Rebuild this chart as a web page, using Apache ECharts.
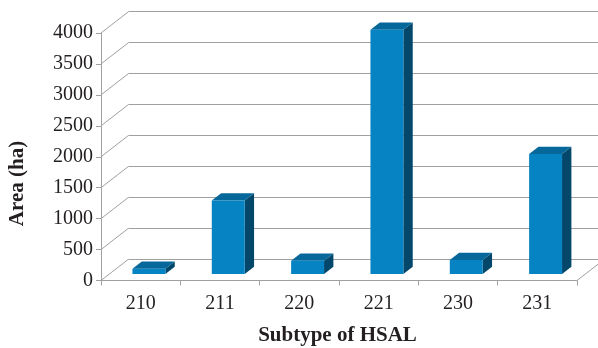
<!DOCTYPE html>
<html>
<head>
<meta charset="utf-8">
<script src="https://cdn.jsdelivr.net/npm/echarts@6/dist/echarts.min.js"></script>
<style>
  html, body { margin: 0; padding: 0; background: #ffffff; }
  #chart { width: 598px; height: 348px; }
</style>
</head>
<body>
<div id="chart"></div>
<script>
// Area per HSAL subtype
const categories = ['210', '211', '220', '221', '230', '231'];
const areaValues = [85, 1190, 215, 3950, 230, 1940];
const yTicks = [0, 500, 1000, 1500, 2000, 2500, 3000, 3500, 4000];

// Pseudo-3D geometry (pixels / fractions)
const DEPTH_X = 27.5;      // back wall shift to the right
const DEPTH_Y = 21.3;      // back wall shift upwards
const BAR_FRONT = 0.30;    // bar front face position within the depth
const BAR_DEPTH = 0.34;    // bar thickness as part of the depth
const BAR_WIDTH = 0.415;   // bar width relative to a category band

const GRID_COLOR = '#a0a0a0';
const AXIS_COLOR = '#a0a0a0';
const TEXT_COLOR = '#231f20';
const FACE_FRONT = '#0583c2';
const FACE_TOP = '#06679a';
const FACE_SIDE = '#03476b';
const SERIF = '"Liberation Serif", "Times New Roman", serif';

const chart = echarts.init(document.getElementById('chart'), null, { renderer: 'canvas' });

function px(v) { return Math.round(v - 0.5) + 0.5; }

// Back wall gridlines, side wall diagonals and floor edge
function renderWalls(params, api) {
  const cs = params.coordSys;
  const v = api.value(1);
  const y = api.coord([0, v])[1];
  const x0 = cs.x;
  const x1 = cs.x + cs.width;
  const style = { stroke: GRID_COLOR, lineWidth: 1 };
  const children = [
    { type: 'line', shape: { x1: x0, y1: y, x2: x0 + DEPTH_X, y2: y - DEPTH_Y }, style: style },
    { type: 'line', shape: { x1: x0 + DEPTH_X, y1: px(y - DEPTH_Y), x2: x1 + DEPTH_X, y2: px(y - DEPTH_Y) }, style: style }
  ];
  if (v === 0) {
    children.push({ type: 'line', shape: { x1: x1, y1: y, x2: x1 + DEPTH_X, y2: y - DEPTH_Y }, style: style });
  }
  return { type: 'group', children: children };
}

// One box-shaped bar per category
function renderBar(params, api) {
  const idx = api.value(0);
  const base = api.coord([idx, 0]);
  const top = api.coord([idx, api.value(1)]);
  const band = api.size([1, 0])[0];
  const w = band * BAR_WIDTH;
  const fdx = DEPTH_X * BAR_FRONT, fdy = DEPTH_Y * BAR_FRONT;
  const bdx = DEPTH_X * BAR_DEPTH, bdy = DEPTH_Y * BAR_DEPTH;
  const xl = base[0] - w / 2 + fdx;
  const xr = xl + w;
  const yb = base[1] - fdy;
  const yt = top[1] - fdy;
  return {
    type: 'group',
    children: [
      { type: 'polygon', shape: { points: [[xr, yb], [xr, yt], [xr + bdx, yt - bdy], [xr + bdx, yb - bdy]] },
        style: { fill: FACE_SIDE } },
      { type: 'polygon', shape: { points: [[xl, yt], [xr, yt], [xr + bdx, yt - bdy], [xl + bdx, yt - bdy]] },
        style: { fill: FACE_TOP } },
      { type: 'rect', shape: { x: xl, y: yt, width: w, height: yb - yt },
        style: { fill: FACE_FRONT } }
    ]
  };
}

chart.setOption({
  animation: false,
  backgroundColor: '#ffffff',
  grid: { left: 101, right: 21, top: 33, bottom: 67.5, containLabel: false },
  xAxis: {
    type: 'category',
    data: categories,
    boundaryGap: true,
    axisLine: { show: true, lineStyle: { color: AXIS_COLOR, width: 1 } },
    axisTick: { show: true, length: 5, lineStyle: { color: AXIS_COLOR } },
    axisLabel: { margin: 13, color: TEXT_COLOR, fontFamily: SERIF, fontSize: 20 },
    splitLine: { show: false }
  },
  yAxis: {
    type: 'value',
    min: 0,
    max: 4000,
    interval: 500,
    axisLine: { show: true, lineStyle: { color: AXIS_COLOR, width: 1 } },
    axisTick: { show: true, length: 5, lineStyle: { color: AXIS_COLOR } },
    axisLabel: { margin: 8, color: TEXT_COLOR, fontFamily: SERIF, fontSize: 20,
      formatter: function (v) { return String(v); } },
    splitLine: { show: false }
  },
  graphic: [
    { type: 'text', x: 17.5, y: 183.5, rotation: Math.PI / 2,
      style: { text: 'Area (ha)', align: 'center', verticalAlign: 'middle',
        font: 'bold 21px ' + SERIF, fill: TEXT_COLOR } },
    { type: 'text', x: 337.5, y: 336,
      style: { text: 'Subtype of HSAL', align: 'center', verticalAlign: 'middle',
        font: 'bold 21px ' + SERIF, fill: TEXT_COLOR } }
  ],
  series: [
    {
      type: 'custom',
      name: 'walls',
      z: 1,
      silent: true,
      renderItem: renderWalls,
      data: yTicks.map(function (v) { return [0, v]; })
    },
    {
      type: 'custom',
      name: 'Area',
      z: 3,
      renderItem: renderBar,
      data: areaValues.map(function (v, i) { return [i, v]; })
    }
  ]
});
</script>
</body>
</html>
